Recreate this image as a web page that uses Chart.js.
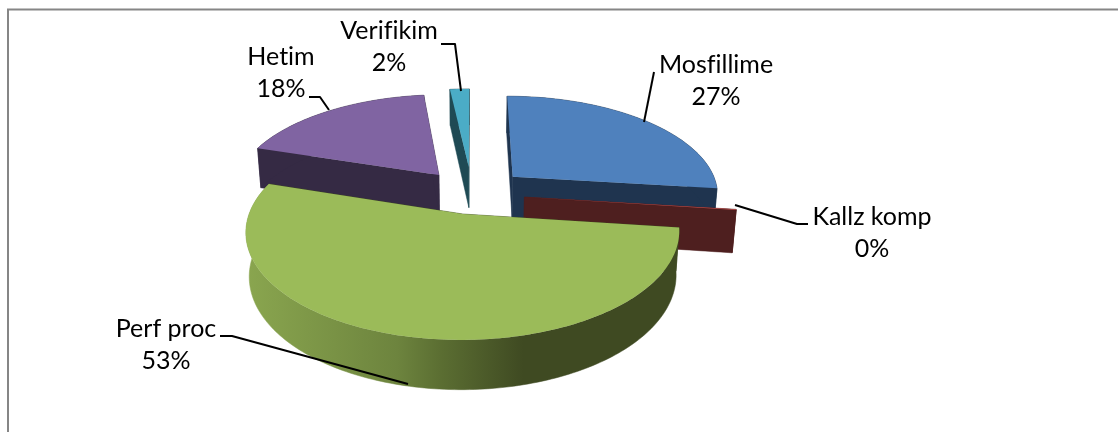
<!DOCTYPE html>
<html><head><meta charset="utf-8">
<style>html,body{margin:0;padding:0;background:#fff}canvas{display:block}</style>
<script src="https://cdn.jsdelivr.net/npm/chart.js@4"></script>
</head><body><canvas id="c" width="1118" height="432"></canvas>
<script>
const categories = ['Mosfillime','Kallz komp','Perf proc','Hetim','Verifikim'];
const values = [27, 0.1, 53, 18.4, 1.8];
const offsets = [51, 48, 38, 49, 54];
const topColors = ['#4f81bd','#c0504d','#9bbb59','#8064a2','#4bacc6'];
const wallColors = ['#1f344f','#4e1f1f','#3f4a22','#352a44','#1f4a54'];
const drawOrder = [3,4,0,1,2];
const labelLayout = [
 {cx:716,y:65,line:[[654,72],[644,122]]},
 {cx:872,y:217,line:[[735,205],[797,224],[808,224]]},
 {cx:166,y:329,line:[[220,336],[232,336],[408,384]]},
 {cx:281,y:57,line:[[309,97],[320,97],[329,110]]},
 {cx:389,y:31,line:[[441,44],[455,44],[461,91]]}
];
const total = values.reduce((a,b)=>a+b,0);
// projection of the pie plane onto the page
const P = {cx:472, h:194, rx:207, ry:98.6, a:0.16, depth:42, shrink:0.985};
function proj(X,Y,low){
  const s = 1/(1+P.a*Y);
  let x = P.cx + X*P.rx*s, y = P.h - Y*P.ry*s;
  if(low){ x = P.cx + (x-P.cx)*P.shrink; y += P.depth*Math.pow(s,0.8); }
  return [x,y];
}
function poly(ctx,pts){ctx.beginPath();pts.forEach((p,i)=>i?ctx.lineTo(p[0],p[1]):ctx.moveTo(p[0],p[1]));ctx.closePath();}
const pie3d = {
  id:'pie3d',
  beforeDatasetDraw(chart){
    const ctx = chart.ctx, arcs = chart.getDatasetMeta(0).data;
    drawOrder.forEach(i=>{
      const a = arcs[i], R = a.outerRadius, mid=(a.startAngle+a.endAngle)/2, o=(a.options.offset||0)/R;
      const ox=Math.cos(mid)*o, oy=-Math.sin(mid)*o;
      const rim=[]; const n=Math.max(2,Math.ceil((a.endAngle-a.startAngle)/0.02));
      for(let k=0;k<=n;k++){const t=a.startAngle+(a.endAngle-a.startAngle)*k/n;rim.push([ox+Math.cos(t),oy-Math.sin(t)]);}
      const apex=[ox,oy], first=rim[0], last=rim[n];
      ctx.save();
      ctx.lineJoin='round';
      const wall=(w,fill)=>{
        const pts=w.map(p=>proj(p[0],p[1],false)).concat(w.slice().reverse().map(p=>proj(p[0],p[1],true)));
        poly(ctx,pts);ctx.fillStyle=fill;ctx.fill();ctx.strokeStyle=fill;ctx.lineWidth=0.5;ctx.stroke();
      };
      wall([apex,first],wallColors[i]);
      wall([apex,last],wallColors[i]);
      let rimFill=wallColors[i];
      if(i===2){
        const g=ctx.createLinearGradient(245,0,680,0);
        g.addColorStop(0,'#8aa64f');g.addColorStop(0.35,'#6d843e');g.addColorStop(0.45,'#5b6e32');g.addColorStop(0.64,'#3f4a22');g.addColorStop(1,'#3f4a22');
        rimFill=g;
      }
      wall(rim,rimFill);
      const face=[proj(apex[0],apex[1],false)].concat(rim.map(p=>proj(p[0],p[1],false)));
      poly(ctx,face);ctx.fillStyle=topColors[i];ctx.fill();
      ctx.restore();
    });
    return false;
  },
  afterDraw(chart){
    const ctx=chart.ctx;
    ctx.save();
    ctx.strokeStyle='#868686';ctx.lineWidth=2;
    ctx.beginPath();ctx.moveTo(8,432);ctx.lineTo(8,9.5);ctx.lineTo(1118,9.5);ctx.stroke();
    ctx.strokeStyle='#000';ctx.lineWidth=2;ctx.lineJoin='round';
    ctx.fillStyle='#000';ctx.font='25px Lato';ctx.textAlign='center';ctx.textBaseline='middle';
    ctx.textRendering='optimizeSpeed';
    labelLayout.forEach((l,i)=>{
      ctx.beginPath();l.line.forEach((p,k)=>k?ctx.lineTo(p[0],p[1]):ctx.moveTo(p[0],p[1]));ctx.stroke();
      ctx.fillText(categories[i],l.cx,l.y);
      ctx.fillText(Math.round(values[i]/total*100)+'%',l.cx,l.y+32);
    });
    ctx.restore();
  }
};
new Chart(document.getElementById('c'),{
  type:'pie',
  data:{labels:categories,datasets:[{data:values,backgroundColor:topColors,offset:offsets,borderWidth:0}]},
  options:{responsive:false,animation:false,plugins:{legend:{display:false},tooltip:{enabled:false}}},
  plugins:[pie3d]
});
</script></body></html>
